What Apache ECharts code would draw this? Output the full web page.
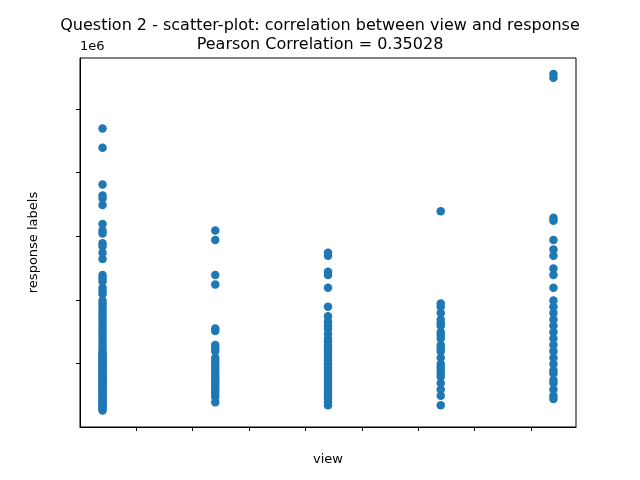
<!DOCTYPE html>
<html><head><meta charset="utf-8">
<script src="https://cdn.jsdelivr.net/npm/echarts@6/dist/echarts.min.js"></script>
<style>html,body{margin:0;padding:0;background:#fff}#c{width:640px;height:480px}</style>
</head><body><div id="c"></div>
<script>
// response values in units of 1e6
const view0 = [0.07,0.1,0.12,0.15,0.18,0.2,0.22,0.25,0.28,0.3,0.33,0.35,0.38,0.4,0.43,0.45,0.48,0.5,0.53,0.55,0.58,0.6,0.63,0.65,0.68,0.7,0.73,0.75,0.78,0.8,0.83,0.85,0.88,0.9,0.93,0.95,0.98,1.0,1.05,1.1,1.15,1.2,1.25,1.3,1.35,1.4,1.45,1.5,1.55,1.6,1.65,1.7,1.75,1.8,1.9,1.95,2.0,2.1,2.15,2.2,2.45,2.55,2.65,2.7,2.85,2.9,3.0,3.3,3.4,3.45,3.62,4.2,4.5];
const view1 = [0.2,0.28,0.33,0.38,0.42,0.47,0.52,0.56,0.6,0.65,0.7,0.75,0.8,0.85,0.9,1.0,1.05,1.1,1.32,1.36,2.05,2.2,2.75,2.9];
const view2 = [0.15,0.2,0.25,0.3,0.35,0.4,0.45,0.5,0.55,0.6,0.65,0.7,0.75,0.8,0.85,0.9,0.95,1.0,1.05,1.1,1.15,1.2,1.27,1.35,1.4,1.47,1.55,1.7,2.0,2.2,2.25,2.5,2.55];
const view3 = [0.15,0.3,0.4,0.5,0.6,0.65,0.7,0.75,0.8,0.9,1.0,1.05,1.1,1.2,1.25,1.3,1.4,1.45,1.5,1.6,1.7,1.75,3.2];
const view4 = [0.25,0.3,0.4,0.5,0.55,0.65,0.7,0.8,0.9,1.0,1.1,1.2,1.3,1.4,1.5,1.6,1.7,1.8,2.0,2.2,2.3,2.5,2.6,2.75,3.05,3.1,5.3,5.36];
const groups = [view0, view1, view2, view3, view4];
const data = [];
groups.forEach((g,i)=>g.forEach(v=>data.push([i,v])));
const chart = echarts.init(document.getElementById('c'));
const ax = {color:'#000', fontSize:13, fontFamily:'DejaVu Sans'};
chart.setOption({
  animation:false,
  title:{text:'Question 2 - scatter-plot: correlation between view and response\nPearson Correlation = 0.35028',
    left:'center', top:11, textStyle:{fontFamily:'DejaVu Sans', fontWeight:'normal', fontSize:16, lineHeight:19, color:'#000'}},
  grid:{left:80, right:64, top:58, bottom:53},
  xAxis:{type:'value', min:-0.2, max:4.2, interval:0.5, name:'view', nameLocation:'middle', nameGap:26,
    nameTextStyle:ax, axisLabel:Object.assign({formatter:v=>{const r=Math.round(v*10)/10; return (r<0||Math.abs(r*2-Math.round(r*2))>1e-6)?'':r.toFixed(1);}, showMinLabel:false, showMaxLabel:false},ax),
    splitLine:{show:false}, axisLine:{onZero:false, lineStyle:{color:'#000'}}, axisTick:{show:true, length:4, lineStyle:{color:'#000'}},
    customValues:undefined},
  yAxis:{type:'value', min:-0.19, max:5.61, name:'response labels', nameLocation:'middle', nameGap:40,
    nameTextStyle:ax, axisLabel:Object.assign({formatter:v=>{const r=Math.round(v*100)/100; return Number.isInteger(r)&&r>=0?String(r):'';}, showMinLabel:false, showMaxLabel:false},ax),
    interval:1, splitLine:{show:false}, axisLine:{show:true, onZero:false, lineStyle:{color:'#000'}}, axisTick:{show:true, length:4, lineStyle:{color:'#000'}}},
  graphic:[{type:'rect', shape:{x:80,y:58,width:496,height:369}, style:{fill:null, stroke:'#000', lineWidth:1}, silent:true, z:100},
    {type:'text', left:80, top:40, style:{text:'1e6', font:'13px DejaVu Sans', fill:'#000'}}],
  series:[{type:'scatter', data:data, symbolSize:8.5, itemStyle:{color:'#1f77b4', opacity:1}}]
});
</script></body></html>
